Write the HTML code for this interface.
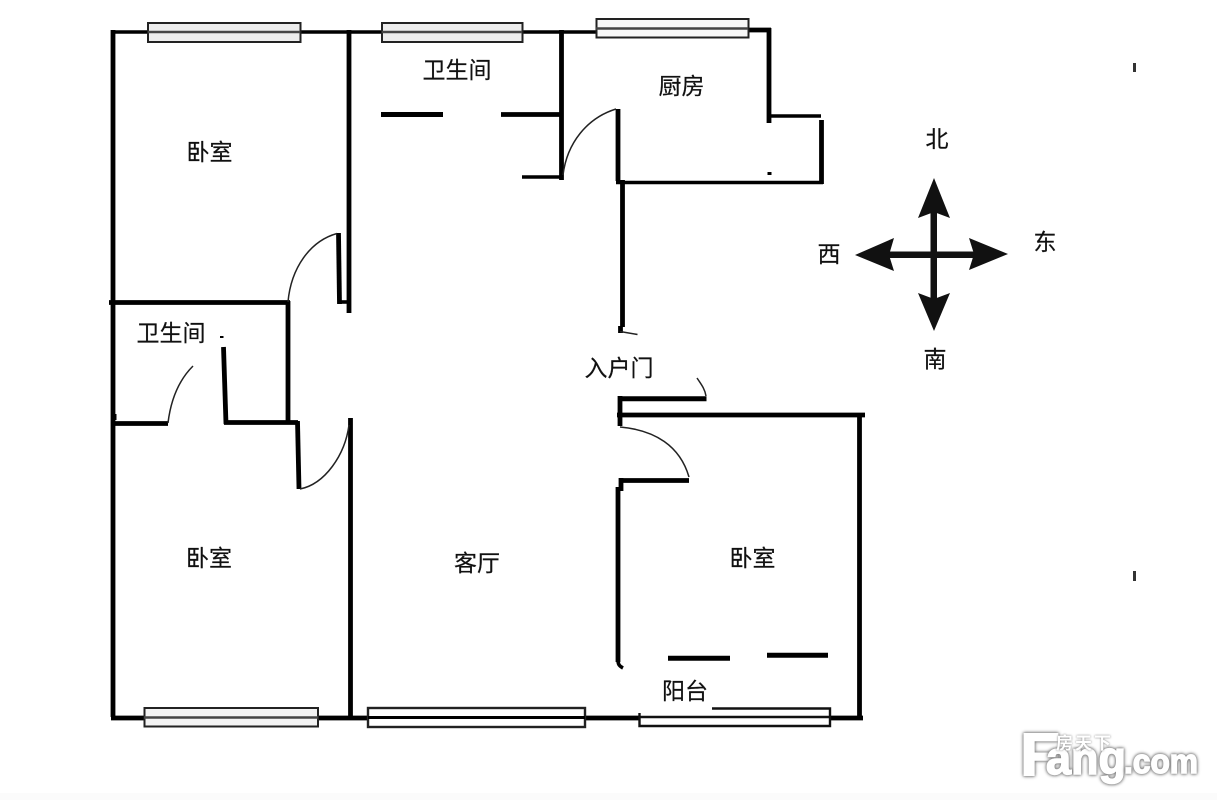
<!DOCTYPE html>
<html lang="zh">
<head>
<meta charset="utf-8">
<title>户型图</title>
<style>
html,body{margin:0;padding:0;background:#fff;width:1217px;height:800px;overflow:hidden}
svg{display:block}
.l{font-family:"Liberation Sans","Noto Sans CJK SC",sans-serif;font-size:23px;fill:#111;stroke:#111;stroke-width:.2;text-anchor:middle;font-weight:400}
.w{stroke:#000;stroke-width:4.8;fill:none;stroke-linecap:butt}
.t{stroke:#000;stroke-width:3.6;fill:none}
.b{stroke:#000;stroke-width:5;fill:none}
.a{stroke:#222;stroke-width:1.5;fill:none}
.win{fill:#ececec;stroke:#222;stroke-width:2}
.mid{stroke:#444;stroke-width:2.6}
.wm{font-family:"Liberation Sans",sans-serif;font-weight:700;fill:#fff;stroke:#fff;stroke-width:1.5;filter:drop-shadow(0 0 1.5px #777) drop-shadow(0 0 1px #999)}
.wc{font-family:"Liberation Sans","Noto Sans CJK SC",sans-serif;font-weight:700;fill:#fff;filter:drop-shadow(0 0 1px #777)}
</style>
</head>
<body>
<svg width="1217" height="800" viewBox="0 0 1217 800" xmlns="http://www.w3.org/2000/svg">
<rect width="1217" height="800" fill="#fff"/>
<rect x="0" y="793" width="1217" height="7" fill="#fbfbfb"/>

<!-- walls -->
<path class="w" d="M113 717V30"/>
<path class="t" d="M111 32H148M300 32H382M522 32H596"/>
<path class="w" d="M349 30V313"/>
<path class="t" d="M338 302H349"/>
<path class="w" d="M338.5 233L339.5 304"/>
<path class="w" d="M109 302.500H290"/>
<path class="w" d="M288 301V424"/>
<path class="w" d="M561.500 30V180"/>
<path class="w" d="M501 114.500H561"/>
<path class="t" d="M522 177H563"/>
<path class="w" d="M618 109V181"/>
<path class="w" d="M622.500 180V327"/>
<path class="t" d="M616 182.500H823"/>
<path class="w" d="M748 30H771M769 28V123"/>
<path class="t" d="M769 116H821"/>
<path class="w" d="M821.500 120V184"/>
<rect x="767.500" y="172" width="4" height="3" fill="#000"/>
<path class="b" d="M381 114.500H443"/>

<path class="w" d="M620.500 326V333"/>
<path class="a" d="M620 331.500L637.500 334.500"/>

<!-- lower-left -->
<path class="w" d="M113 423.500H168"/>
<rect x="113" y="414" width="3.500" height="6" fill="#000"/>
<path class="w" d="M223.500 347L226 424"/>
<path class="w" d="M224 422.500H298"/>
<path class="w" d="M297.500 421L299 489"/>
<path class="w" d="M350.500 418V718"/>
<rect x="220" y="336" width="3.500" height="2" fill="#000"/>

<!-- entry & right room -->
<path class="b" d="M619 398.700H706.500"/>
<path class="w" d="M620 396V426"/>
<path class="w" d="M617 415H865"/>
<path class="w" d="M859.500 414V720"/>
<path class="w" d="M620 480.500H689"/>
<path class="w" d="M621 478V491"/>
<path class="w" d="M618 487V662"/>
<path class="t" d="M618 660C618 664 619 666 623 668"/>
<path class="b" d="M668 658.300H730"/>
<path class="b" d="M767 655.300H828"/>

<!-- door arcs -->
<path class="a" d="M288 302C291 268 310 241 337 233.500"/>
<path class="a" d="M563 175C567 143 587 118 616 109"/>
<path class="a" d="M168 423C171 398 180 379 193 366"/>
<path class="a" d="M300 489C325 484 345 455 349 425"/>
<path class="a" d="M620 427C655 430 680 446 689 477"/>
<path class="a" d="M697 378C701 384 705 389 706 396"/>

<!-- bottom wall -->
<path class="w" d="M111 718H144M318 718H368M585 718H640M830 718H863"/>

<!-- windows -->
<rect class="win" x="148" y="23" width="152.500" height="19"/>
<line class="mid" x1="148" y1="32" x2="300" y2="32"/>
<rect class="win" x="382" y="23" width="140.500" height="19"/>
<line class="mid" x1="382" y1="32" x2="522" y2="32"/>
<rect class="win" x="596.500" y="19" width="152" height="18.500" style="fill:#f8f8f8"/>
<line class="mid" x1="596" y1="28.500" x2="748" y2="28.500"/>
<rect class="win" x="144.500" y="708" width="173.500" height="18.500" style="fill:#f3f3f3"/>
<line class="mid" x1="144" y1="717.500" x2="318" y2="717.500"/>
<rect x="368" y="708" width="217" height="19" fill="#fff" stroke="#222" stroke-width="2.400"/>
<line x1="368" y1="717.500" x2="585" y2="717.500" stroke="#000" stroke-width="3"/>
<path d="M712 708.500H830V726H639.500V713" fill="none" stroke="#111" stroke-width="2.400"/>
<line x1="639" y1="717" x2="830" y2="717" stroke="#111" stroke-width="2.400"/>

<!-- compass -->
<g fill="#111">
<path d="M934 178L950 218L934 212L918 218Z"/>
<path d="M934 331L918 293L934 299L950 293Z"/>
<path d="M855 255L894 238L889 255L894 271Z"/>
<path d="M1008 254L969 238L974 254L969 270Z"/>
<rect x="930.500" y="205" width="6.500" height="95"/>
<rect x="885" y="251.500" width="95" height="6.500"/>
</g>

<!-- labels -->
<text class="l" x="457" y="78">卫生间</text>
<text class="l" x="209.500" y="160">卧室</text>
<text class="l" x="681.500" y="94">厨房</text>
<text class="l" x="171" y="341">卫生间</text>
<text class="l" x="209" y="566">卧室</text>
<text class="l" x="477" y="571">客厅</text>
<text class="l" x="752.500" y="566">卧室</text>
<text class="l" x="619" y="376">入户门</text>
<text class="l" x="685" y="699">阳台</text>
<text class="l" x="937" y="147">北</text>
<text class="l" x="1045" y="250">东</text>
<text class="l" x="829" y="262">西</text>
<text class="l" x="935" y="367">南</text>

<!-- page ticks -->
<rect x="1133" y="63" width="3" height="9" fill="#333"/>
<rect x="1133" y="571" width="3" height="10" fill="#333"/>

<!-- watermark -->
<text class="wm" x="1020" y="775" font-size="60" textLength="40" lengthAdjust="spacingAndGlyphs">F</text>
<text class="wm" x="1046" y="774" font-size="46" textLength="80" lengthAdjust="spacingAndGlyphs">ang</text>
<text class="wm" x="1124" y="773" font-size="34" textLength="74" lengthAdjust="spacingAndGlyphs">.com</text>
<text class="wc" x="1056" y="749" font-size="17" textLength="55">房天下</text>
</svg>
</body>
</html>
